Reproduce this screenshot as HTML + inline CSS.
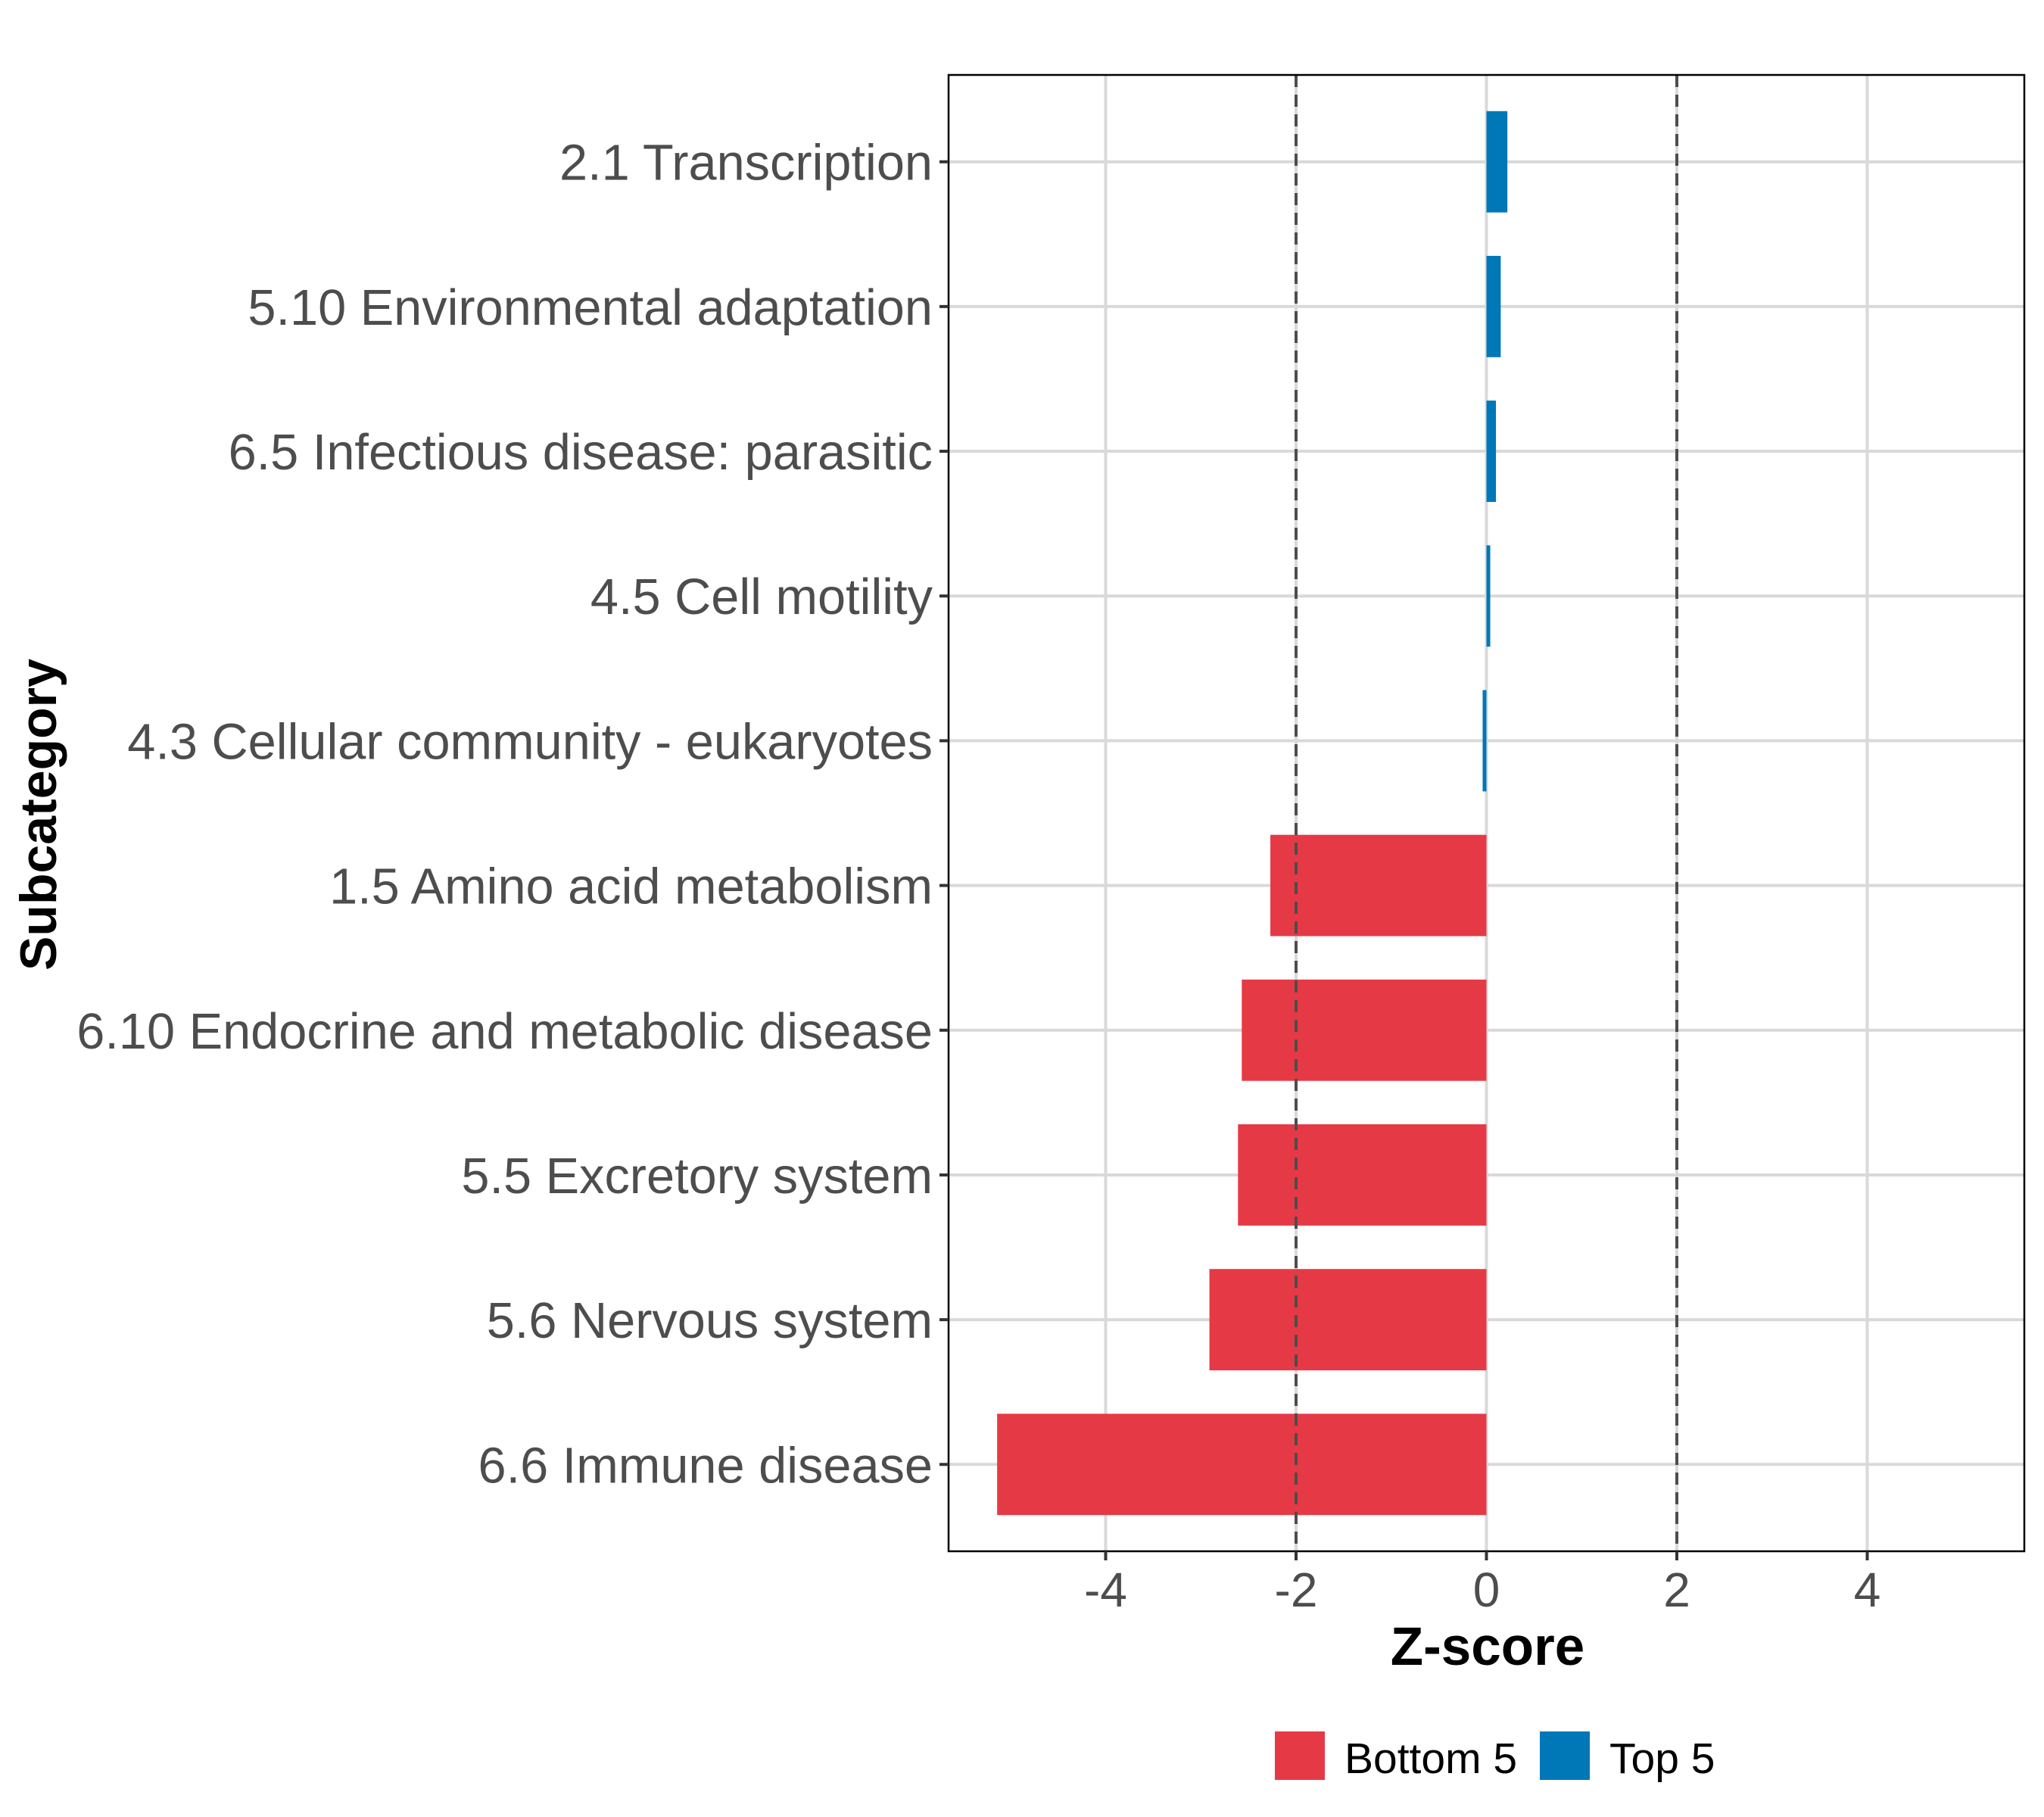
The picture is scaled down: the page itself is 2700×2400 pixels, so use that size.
<!DOCTYPE html>
<html><head><meta charset="utf-8"><style>
html,body{margin:0;padding:0;background:#fff;}
svg{display:block;font-family:"Liberation Sans",Arial,sans-serif;}
</style></head><body>
<svg id="chart" width="2700" height="2400" viewBox="0 0 2700 2400">
<rect x="0" y="0" width="2700" height="2400" fill="#fff"/>
<g id="grid"></g>
<g id="bars"></g>
<g id="refs"></g>
<rect x="1253" y="99" width="1421" height="1950" fill="none" stroke="#000" stroke-width="2.5"/>
<g id="axes"></g>
<text x="1965" y="2199" font-size="71" font-weight="bold" text-anchor="middle" fill="#000">Z-score</text>
<text transform="translate(74,1076) rotate(-90)" font-size="68" font-weight="bold" text-anchor="middle" fill="#000">Subcategory</text>
<g>
<rect x="1684" y="2287" width="66" height="64" fill="#E63946"/>
<text x="1776" y="2342" font-size="57" fill="#000">Bottom 5</text>
<rect x="2034" y="2287" width="66" height="64" fill="#0077B6"/>
<text x="2126" y="2342" font-size="57" fill="#000">Top 5</text>
</g>
</svg>
<script>
const categories = ["2.1 Transcription","5.10 Environmental adaptation","6.5 Infectious disease: parasitic","4.5 Cell motility","4.3 Cellular community - eukaryotes","1.5 Amino acid metabolism","6.10 Endocrine and metabolic disease","5.5 Excretory system","5.6 Nervous system","6.6 Immune disease"];
const zscores = [0.22, 0.15, 0.10, 0.04, -0.04, -2.27, -2.57, -2.61, -2.91, -5.14];
const groups = ["Top 5","Top 5","Top 5","Top 5","Top 5","Bottom 5","Bottom 5","Bottom 5","Bottom 5","Bottom 5"];
const xTicks = [-4, -2, 0, 2, 4];
const refLines = [-2, 2];

const NS = "http://www.w3.org/2000/svg";
const L = 1253, R = 2674, T = 99, B = 2049;
const xMin = -5.65, xMax = 5.65;
const xs = v => L + (v - xMin) / (xMax - xMin) * (R - L);
const step = (B - T) / (categories.length - 1 + 1.2);
const ys = i => T + 0.6 * step + i * step;
const colors = {"Top 5": "#0077B6", "Bottom 5": "#E63946"};
function mk(tag, attrs, parent) {
  const e = document.createElementNS(NS, tag);
  for (const k in attrs) e.setAttribute(k, attrs[k]);
  parent.appendChild(e);
  return e;
}
const grid = document.getElementById('grid');
const bars = document.getElementById('bars');
const refs = document.getElementById('refs');
const axes = document.getElementById('axes');
for (const t of xTicks) {
  const g = mk('line', {x1: xs(t), x2: xs(t), y1: T, y2: B, stroke: '#D9D9D9', 'stroke-width': 4}, grid);
  
  
  const tk = mk('line', {x1: xs(t), x2: xs(t), y1: B, y2: B + 12, stroke: '#333', 'stroke-width': 4}, axes);
  
  
  const tl = mk('text', {x: xs(t), y: 2122, 'font-size': 64, 'text-anchor': 'middle', fill: '#4D4D4D'}, axes);
  tl.textContent = t < 0 ? '-' + Math.abs(t) : String(t);
  
  
}
categories.forEach((c, i) => {
  const y = ys(i);
  const g = mk('line', {x1: L, x2: R, y1: y, y2: y, stroke: '#D9D9D9', 'stroke-width': 4}, grid);
  
  
  const v = zscores[i];
  const h = step * 0.7;
  const b = mk('rect', {x: Math.min(xs(0), xs(v)), y: y - h / 2, width: Math.abs(xs(v) - xs(0)), height: h, fill: colors[groups[i]]}, bars);
  
  
  const tk = mk('line', {x1: L - 12, x2: L, y1: y, y2: y, stroke: '#333', 'stroke-width': 4}, axes);
  
  
  const tl = mk('text', {x: 1232, y: y + 24, 'font-size': 66.7, 'text-anchor': 'end', fill: '#4D4D4D'}, axes);
  tl.textContent = c;
  
  
});
for (const r of refLines) {
  const d = mk('line', {x1: xs(r), x2: xs(r), y1: T, y2: B, stroke: '#4D4D4D', 'stroke-width': 4, 'stroke-dasharray': '16 10'}, refs);
  
  
}
</script>
</body></html>
